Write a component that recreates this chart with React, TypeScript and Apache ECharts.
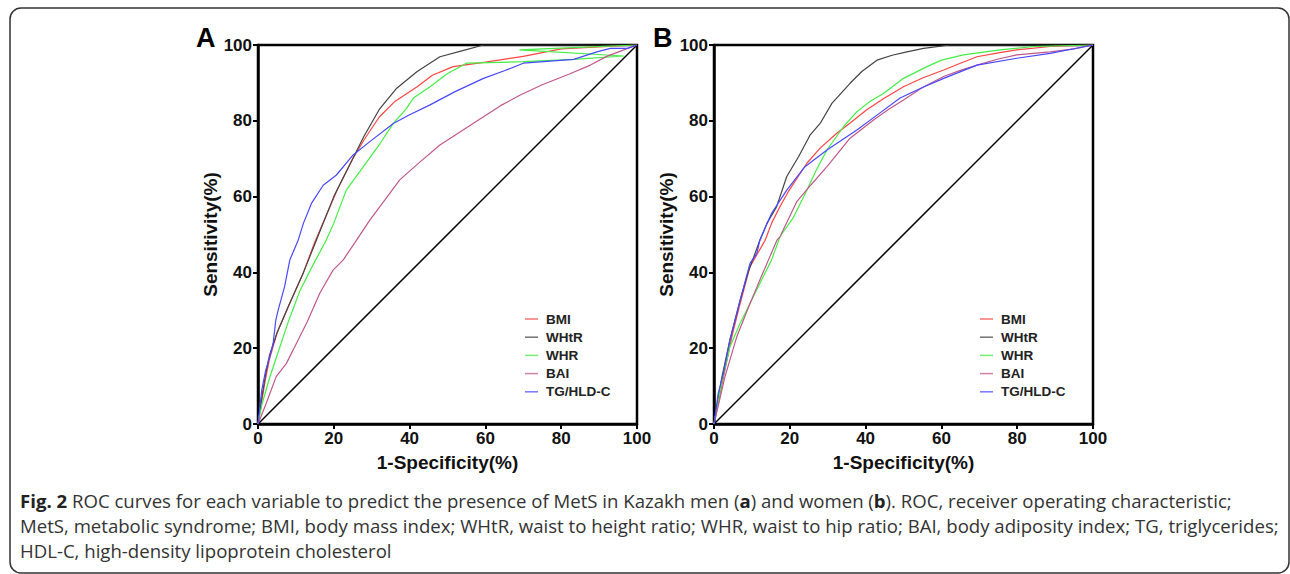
import React, { useEffect, useRef } from "react";
import * as echarts from "echarts";

const seriesNames = ["BMI", "WHtR", "WHR", "BAI", "TG/HLD-C"];
const seriesColors = ["#ff4444", "#444444", "#44ee44", "#c0588c", "#4848ff"];
const axisTicks = [0, 20, 40, 60, 80, 100];

// Panel A (men): [1-specificity, sensitivity]
const menBMI = [[0,0],[1,6],[2,12],[3,17],[5,24],[8,31],[12,40],[15,48],[18,55],[21,62],[25,70],[28,75],[32,81],[36,85],[42,89],[46,92],[51.5,94.3],[60,95.5],[70,97],[80,99],[90,99.5],[100,100]];
const menWHtR = [[0,0],[1,7],[2,13],[3,18],[5,24],[8,31],[12,40],[16,50],[20,60],[24,68],[28,76],[32,83],[36.6,88.6],[42,93],[48,96.9],[54,98.5],[59.5,100],[100,100]];
const menWHR = [[0,0],[1,5],[3,12],[5,18],[8,27],[11,35],[14,41],[18,48.5],[20,53],[23.3,61.7],[27.8,67.9],[32.2,74],[35.7,79.3],[39,83],[41,86],[45.4,89],[50,92.5],[55,95.2],[70,95.6],[83.3,96.2],[96.5,97.1],[69,98.7],[80,99.2],[100,100]];
const menBAI = [[0,0],[2,5],[4.8,12.5],[7.5,16],[10,21],[13,27],[16.3,34.5],[19.8,40.6],[22.5,43.3],[26,48.5],[29.5,53.8],[33,58.5],[37.4,64.4],[42,68.5],[48,73.6],[54,77.5],[59.5,81.1],[64,84],[69.2,86.8],[75,89.5],[82,92.3],[87.7,94.7],[92,97],[96,98.5],[100,100]];
const menTG = [[0,0],[1,9],[2,14],[3.1,17.8],[4,21.3],[4.7,27.4],[5.3,30],[7,36.2],[8.4,43.3],[10.6,48.5],[12,53],[14.1,58.2],[17.2,63],[20.7,65.7],[25.1,71],[29.5,74.5],[35.7,79.3],[40,81.6],[45.4,84.2],[52,87.7],[59.5,91.2],[65,93.2],[70,95.2],[83.3,96.2],[89.4,98.2],[93,99.1],[97.4,99.1],[100,100]];

// Panel B (women)
const womenBMI = [[0,0],[2,9.9],[4.7,23],[6.9,31.8],[9.5,41.5],[13.5,48.5],[15.2,53],[17.5,57.5],[19.6,61.3],[24.5,68.8],[28,72.8],[32.4,76.7],[36,79.5],[40.3,82.9],[45,86],[50,89],[55,91.3],[60.6,93.4],[65,95.2],[69.4,96.9],[75,97.9],[79.9,98.7],[88.7,99.6],[100,100]];
const womenWHtR = [[0,0],[1,6],[2,12],[4.2,22.2],[6.9,32.7],[9,40],[12.1,48.5],[14,53],[16.5,57.3],[19.2,65.3],[22.3,70.5],[25.4,76.3],[28,79.3],[31.1,84.6],[35.9,89.9],[39,93],[43,96],[47,97.3],[50.9,98.2],[55.3,99.1],[62.3,100],[100,100]];
const womenWHR = [[0,0],[2,10.7],[4.2,20.4],[6.9,26.6],[9.5,31.8],[13,38.9],[15.2,43.3],[17.4,49.4],[21,54.6],[24.5,61.7],[27,67],[29.8,72.3],[34.2,78.5],[37.7,82.4],[41,85],[44.7,87.2],[50,91.2],[56.2,94.3],[60,96],[65.8,97.4],[75.5,98.7],[84.3,99.6],[100,100]];
const womenBAI = [[0,0],[2.9,12.5],[6,23],[9.5,31.8],[12.1,38],[16.6,48.5],[17.4,49.4],[21.8,58.6],[25.5,63],[29.8,67.9],[35.9,75.4],[42.1,80.2],[46,83],[50,85.5],[55,88.8],[60.6,91.7],[65,93.3],[69.4,94.7],[75,96.3],[79.9,97.4],[88.7,98.2],[95,99],[100,100]];
const womenTG = [[0,0],[1.1,8],[2.5,13.4],[4.2,22.2],[6.9,32.7],[9.5,42.4],[11.3,45],[12.1,48.5],[15.2,55.6],[19.2,61.7],[24,67.9],[29.8,72.3],[37.7,77.6],[43,81.5],[49.1,86],[55,88.8],[60.6,91.2],[69.4,94.7],[79.9,96.5],[88.7,97.8],[100,100]];

const referenceLine = [[0,0],[100,100]];

const panelLetters = ["A", "B"];
const xAxisTitle = "1-Specificity(%)";
const yAxisTitle = "Sensitivity(%)";
const captionLines = [
  "{b|Fig. 2} ROC curves for each variable to predict the presence of MetS in Kazakh men ({b|a}) and women ({b|b}). ROC, receiver operating characteristic;",
  "MetS, metabolic syndrome; BMI, body mass index; WHtR, waist to height ratio; WHR, waist to hip ratio; BAI, body adiposity index; TG, triglycerides;",
  "HDL-C, high-density lipoprotein cholesterol",
];

const FONT = "'Liberation Sans', Arial, sans-serif";
const CAP_FONT = "'Open Sans', sans-serif";

export default function App() {
  const ref = useRef<HTMLDivElement>(null);
  useEffect(() => {
    if (!ref.current) return;
    const chart = echarts.init(ref.current, null, { renderer: "svg" });
    const panels = [
      { left: 258, data: [menBMI, menWHtR, menWHR, menBAI, menTG], legendLeft: 520 },
      { left: 714, data: [womenBMI, womenWHtR, womenWHR, womenBAI, womenTG], legendLeft: 975 },
    ];
    const grids = panels.map((p) => ({
      left: p.left, top: 45, width: 379, height: 379,
      show: true, borderColor: "#000", borderWidth: 2.5, backgroundColor: "transparent",
    }));
    const axisCommon = {
      type: "value" as const, min: 0, max: 100, interval: 20,
      axisLine: { show: true, lineStyle: { color: "#000", width: 2.5 } },
      axisTick: { show: true, length: 5, lineStyle: { color: "#000", width: 2 } },
      splitLine: { show: false },
      axisLabel: { color: "#111", fontWeight: "bold" as const, fontSize: 17, fontFamily: FONT, margin: 6,
        formatter: (v: number) => (axisTicks.includes(v) ? String(v) : "") },
      nameLocation: "middle" as const,
      nameTextStyle: { color: "#111", fontWeight: "bold" as const, fontSize: 19, fontFamily: FONT },
    };
    const xAxes = panels.map((_, i) => ({ ...axisCommon, gridIndex: i, name: xAxisTitle, nameGap: 29 }));
    const yAxes = panels.map((_, i) => ({ ...axisCommon, gridIndex: i, name: yAxisTitle, nameGap: 38 }));
    const series: any[] = [];
    panels.forEach((p, i) => {
      series.push({
        type: "line", name: "ref" + i, xAxisIndex: i, yAxisIndex: i, data: referenceLine,
        symbol: "none", lineStyle: { color: "#000", width: 1.5 }, itemStyle: { color: "#000" }, silent: true,
      });
      p.data.forEach((d, k) => {
        series.push({
          type: "line", name: seriesNames[k], xAxisIndex: i, yAxisIndex: i, data: d,
          symbol: "none", lineStyle: { color: seriesColors[k], width: 1.2 }, itemStyle: { color: seriesColors[k] },
        });
      });
    });
    const legends = panels.map((p) => ({
      data: seriesNames.map((n, k) => ({ name: n, icon: "rect", itemStyle: { color: seriesColors[k], opacity: 0.75 } })),
      orient: "vertical" as const, left: p.legendLeft, top: 307,
      itemWidth: 13, itemHeight: 1.5, itemGap: 4.2, selectedMode: false,
      textStyle: { color: "#222", fontWeight: "bold" as const, fontSize: 13.5, lineHeight: 14, fontFamily: FONT, padding: [0, 0, 0, 3] },
    }));
    const graphic: any[] = [
      { type: "rect", shape: { x: 10, y: 8, width: 1279, height: 565, r: 11 }, style: { fill: "none", stroke: "#333", lineWidth: 1.5 }, silent: true },
      { type: "text", left: 196, top: 24, style: { text: panelLetters[0], font: `bold 27px ${FONT}`, fill: "#000" } },
      { type: "text", left: 653, top: 24, style: { text: panelLetters[1], font: `bold 27px ${FONT}`, fill: "#000" } },
    ];
    captionLines.forEach((t, i) => {
      graphic.push({
        type: "text", x: 20, y: 500 + i * 25,
        style: {
          text: t, fill: "#333", fontSize: 18.6, fontFamily: CAP_FONT, verticalAlign: "middle",
          rich: { b: { fontWeight: "bold", fontSize: 18.6, fontFamily: CAP_FONT, fill: "#222" } },
        },
      });
    });
    chart.setOption({
      animation: false,
      backgroundColor: "#fff",
      grid: grids,
      xAxis: xAxes,
      yAxis: yAxes,
      legend: legends,
      series,
      graphic,
    });
    return () => chart.dispose();
  }, []);
  return <div ref={ref} style={{ position: "fixed", left: 0, top: 0, width: 1290, height: 574 }} />;
}
